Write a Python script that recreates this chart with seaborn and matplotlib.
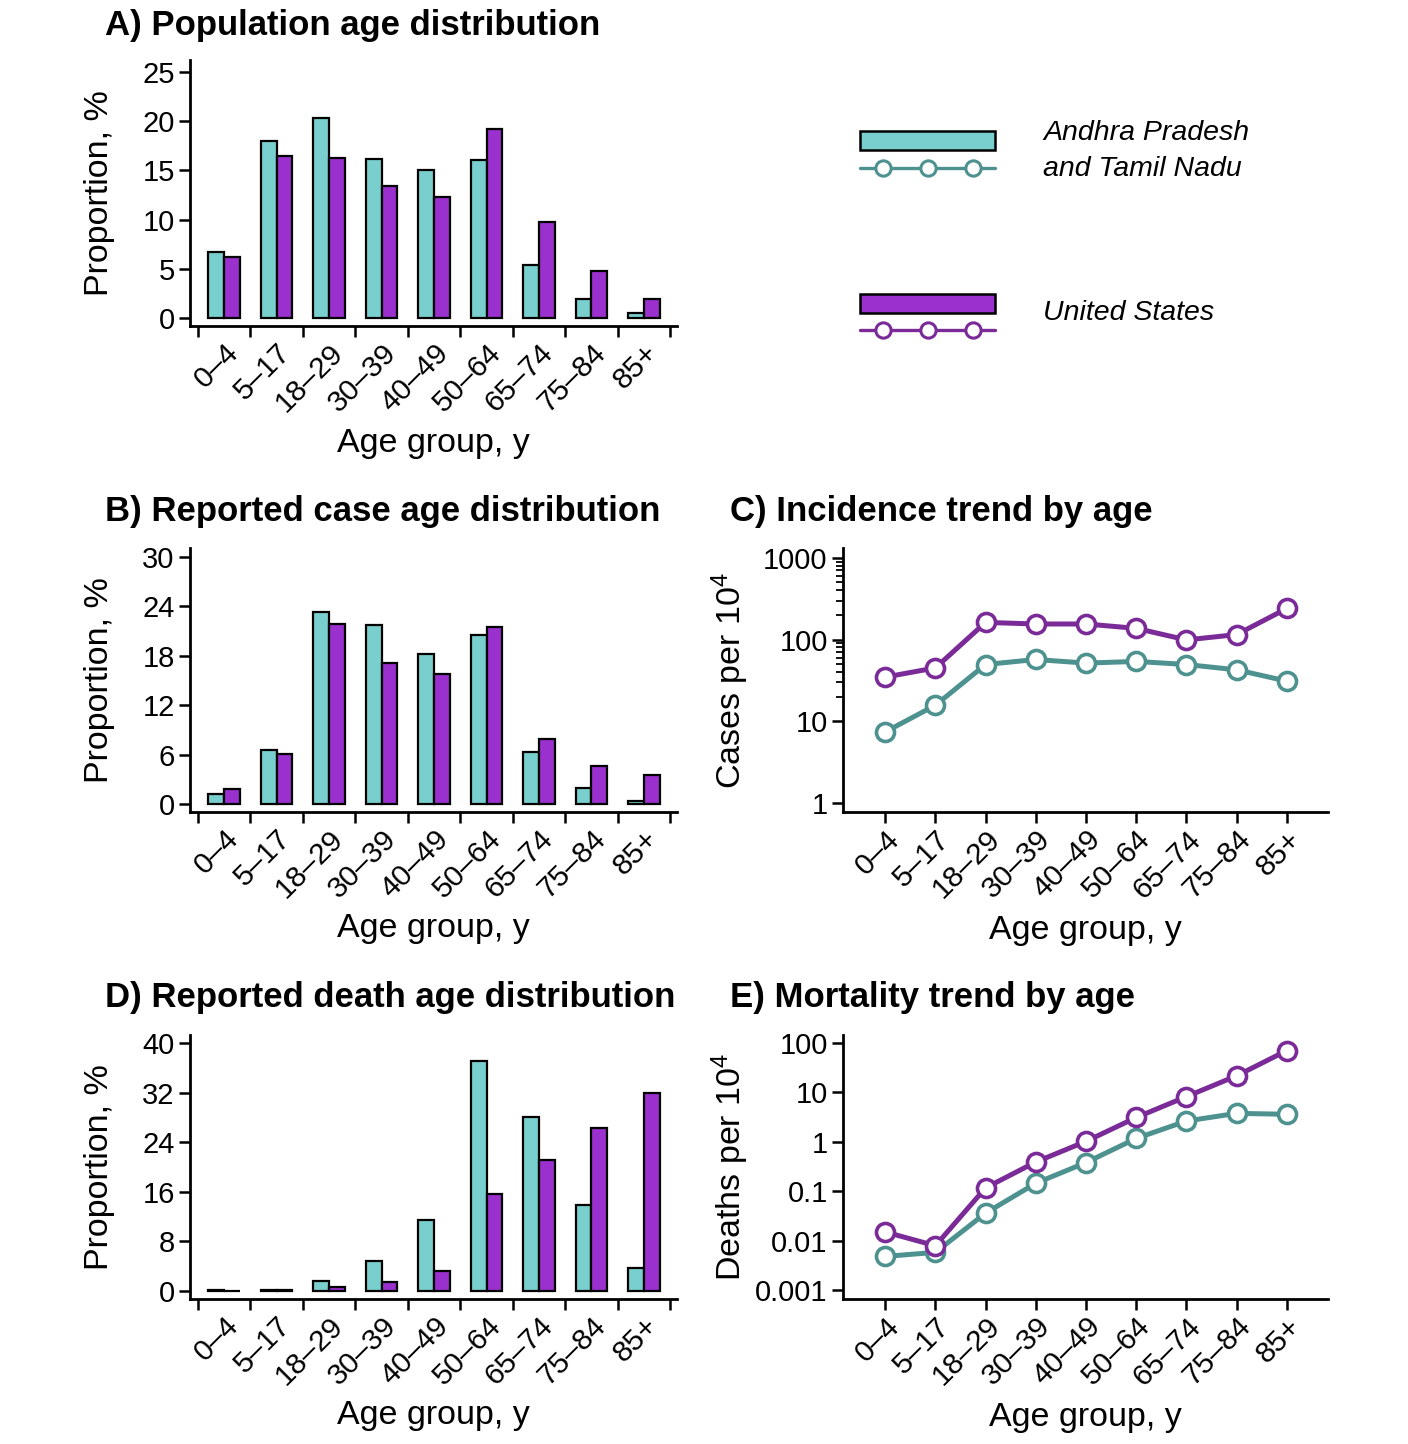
import numpy as np
import pandas as pd
import matplotlib
matplotlib.use("Agg")
import matplotlib.pyplot as plt
import seaborn as sns
from matplotlib.ticker import FixedLocator, FixedFormatter, NullFormatter
from matplotlib.patches import Rectangle
from matplotlib.lines import Line2D

# ---------------- data ----------------
age_groups = ["0–4", "5–17", "18–29", "30–39", "40–49", "50–64", "65–74", "75–84", "85+"]
region_ap = "Andhra Pradesh\nand Tamil Nadu"
region_us = "United States"
regions = [region_ap, region_us]

pop_ap = [6.7, 18.0, 20.3, 16.2, 15.0, 16.1, 5.4, 1.9, 0.5]
pop_us = [6.2, 16.5, 16.3, 13.4, 12.3, 19.2, 9.8, 4.8, 1.9]

case_ap = [1.2, 6.6, 23.3, 21.7, 18.2, 20.5, 6.3, 2.0, 0.4]
case_us = [1.8, 6.1, 21.9, 17.1, 15.8, 21.5, 7.9, 4.6, 3.5]

death_ap = [0.1, 0.25, 1.6, 4.8, 11.5, 37.1, 28.0, 13.9, 3.7]
death_us = [0.05, 0.1, 0.7, 1.5, 3.3, 15.7, 21.1, 26.3, 31.9]

incid_ap = [7.4, 15.7, 49.5, 57.0, 51.5, 54.0, 49.5, 42.6, 31.0]
incid_us = [34.7, 45.0, 162.0, 155.0, 155.0, 137.0, 99.0, 115.0, 240.0]

mort_ap = [0.0048, 0.0058, 0.036, 0.145, 0.38, 1.17, 2.63, 3.76, 3.6]
mort_us = [0.015, 0.0079, 0.117, 0.39, 1.02, 3.1, 8.2, 21.6, 70.0]

bar_colors = ["#79CFCE", "#9A30CD"]
line_colors = ["#4E9290", "#7A2B98"]


def long_df(ap, us):
    return pd.DataFrame({
        "age": age_groups * 2,
        "pos": list(range(len(age_groups))) * 2,
        "region": [region_ap] * len(ap) + [region_us] * len(us),
        "value": list(ap) + list(us),
    })


# ---------------- style ----------------
sns.set_theme(style="ticks")
plt.rcParams["font.family"] = ["Liberation Sans", "DejaVu Sans"]
plt.rcParams["mathtext.fontset"] = "custom"
plt.rcParams["mathtext.rm"] = "Liberation Sans"
plt.rcParams["mathtext.it"] = "Liberation Sans:italic"
for k in ["text.color", "axes.labelcolor", "xtick.color", "ytick.color", "axes.edgecolor"]:
    plt.rcParams[k] = "black"

W, H = 1408, 1444
fig = plt.figure(figsize=(W / 100, H / 100), dpi=100)
fig.patch.set_facecolor("white")

TICK_FS = 21.5
YTICK_FS = 21
LABEL_FS = 24.5
TITLE_FS = 25


def add_ax(x0, x1, y0, y1):
    return fig.add_axes([x0 / W, 1 - y1 / H, (x1 - x0) / W, (y1 - y0) / H])


def style_common(ax):
    for s in ["top", "right"]:
        ax.spines[s].set_visible(False)
    for s in ["left", "bottom"]:
        ax.spines[s].set_linewidth(2)
        ax.spines[s].set_color("black")
    ax.tick_params(axis="y", which="major", length=8, width=1.8, labelsize=YTICK_FS,
                   pad=3, colors="black")
    ax.set_facecolor("white")
    ax.grid(False)


def bar_panel(ax, ap, us, ymax, step, ytop):
    df = long_df(ap, us)
    sns.barplot(data=df, x="age", y="value", hue="region", order=age_groups,
                hue_order=regions, palette=bar_colors, width=0.6,
                edgecolor="black", linewidth=1.6, errorbar=None,
                legend=False, ax=ax, saturation=1)
    style_common(ax)
    ax.set_xlim(-0.65, len(age_groups) - 0.37)
    ax.set_ylim(-ymax * 0.032, ytop)
    ax.yaxis.set_major_locator(FixedLocator(np.arange(0, ymax + 0.1, step)))
    ax.set_yticklabels([f"{int(v)}" for v in np.arange(0, ymax + 0.1, step)])
    ax.xaxis.set_major_locator(FixedLocator(range(len(age_groups))))
    ax.set_xticklabels(age_groups, rotation=45, ha="right", rotation_mode="anchor")
    ax.xaxis.set_minor_locator(FixedLocator(np.arange(-0.5, len(age_groups), 1.0)))
    ax.tick_params(axis="x", which="major", length=0, labelsize=TICK_FS, pad=9)
    ax.tick_params(axis="x", which="minor", length=8, width=1.8, colors="black")
    ax.set_ylabel("Proportion, %", fontsize=LABEL_FS, va="center")
    ax.yaxis.set_label_coords(-0.185, 0.5)
    ax.set_xlabel("Age group, y", fontsize=LABEL_FS)
    ax.xaxis.set_label_coords(0.5, -0.44)
    ax.xaxis.label.set_va("center")


def line_panel(ax, ap, us, ylim, ticks, ticklabels, ylabel, minor_ticks):
    df = long_df(ap, us)
    for reg, col in zip(regions, line_colors):
        sub = df[df["region"] == reg]
        sns.lineplot(data=sub, x="pos", y="value", color=col, marker="o",
                     markersize=13, markerfacecolor="white", markeredgecolor=col,
                     markeredgewidth=2.6, linewidth=3.6, sort=False, ax=ax,
                     legend=False)
    ax.set_yscale("log")
    style_common(ax)
    ax.set_xlim(-0.84, len(age_groups) - 1 + 0.82)
    ax.set_ylim(*ylim)
    ax.yaxis.set_major_locator(FixedLocator(ticks))
    ax.yaxis.set_major_formatter(FixedFormatter(ticklabels))
    ax.yaxis.set_minor_locator(FixedLocator(minor_ticks))
    ax.yaxis.set_minor_formatter(NullFormatter())
    ax.tick_params(axis="y", which="minor", length=5, width=1.3, colors="black")
    ax.xaxis.set_major_locator(FixedLocator(range(len(age_groups))))
    ax.set_xticklabels(age_groups, rotation=45, ha="right", rotation_mode="anchor")
    ax.tick_params(axis="x", which="major", length=8, width=1.8, labelsize=TICK_FS,
                   pad=1.5, colors="black")
    ax.set_ylabel(ylabel, fontsize=LABEL_FS, va="center")
    ax.yaxis.set_label_coords(-0.233, 0.5)
    ax.set_xlabel("Age group, y", fontsize=LABEL_FS)
    ax.xaxis.set_label_coords(0.5, -0.447)
    ax.xaxis.label.set_va("center")


# ---------------- panels ----------------
axA = add_ax(190, 677, 60, 326)
bar_panel(axA, pop_ap, pop_us, 25, 5, 26.2)

axB = add_ax(190, 677, 548, 812)
bar_panel(axB, case_ap, case_us, 30, 6, 31.1)

axD = add_ax(190, 677, 1035, 1299)
bar_panel(axD, death_ap, death_us, 40, 8, 41.3)

axC = add_ax(843, 1328, 548, 812)
minor_c = [m * 10 ** e for e in (1, 2) for m in range(2, 10)]
line_panel(axC, incid_ap, incid_us, (10 ** -0.11, 10 ** 3.12),
           [1, 10, 100, 1000], ["1", "10", "100", "1000"],
           "Cases per 10$^{4}$", minor_c)

axE = add_ax(843, 1328, 1035, 1299)
line_panel(axE, mort_ap, mort_us, (10 ** -3.18, 10 ** 2.16),
           [0.001, 0.01, 0.1, 1, 10, 100],
           ["0.001", "0.01", "0.1", "1", "10", "100"],
           "Deaths per 10$^{4}$", [])

# ---------------- titles ----------------
titles = [
    ("A) Population age distribution", 105, 25),
    ("B) Reported case age distribution", 105, 511),
    ("D) Reported death age distribution", 105, 997),
    ("C) Incidence trend by age", 730, 511),
    ("E) Mortality trend by age", 730, 997),
]
for txt, x, y in titles:
    fig.text(x / W, 1 - y / H, txt, fontsize=TITLE_FS, fontweight="bold",
             ha="left", va="center")

# ---------------- legend ----------------
axL = add_ax(840, 1280, 100, 360)
axL.set_xlim(840, 1280)
axL.set_ylim(360, 100)
axL.axis("off")
legend_rows = [(region_ap, 131, 168, 151), (region_us, 294, 330, 313)]
for (label, ry, ly, ty), bc, lc in zip(legend_rows, bar_colors, line_colors):
    axL.add_patch(Rectangle((860, ry), 135, 19, facecolor=bc, edgecolor="black",
                            linewidth=1.8))
    axL.add_line(Line2D([860, 995], [ly, ly], color=lc, linewidth=2.4))
    axL.add_line(Line2D([883, 928, 973], [ly] * 3, color=lc, linestyle="none",
                        marker="o", markersize=11, markerfacecolor="white",
                        markeredgecolor=lc, markeredgewidth=2.2))
    axL.text(1043, ty, label, fontsize=20.5, fontstyle="italic", ha="left",
             va="center", linespacing=1.45)

fig.savefig("out.png", dpi=100, facecolor="white")
